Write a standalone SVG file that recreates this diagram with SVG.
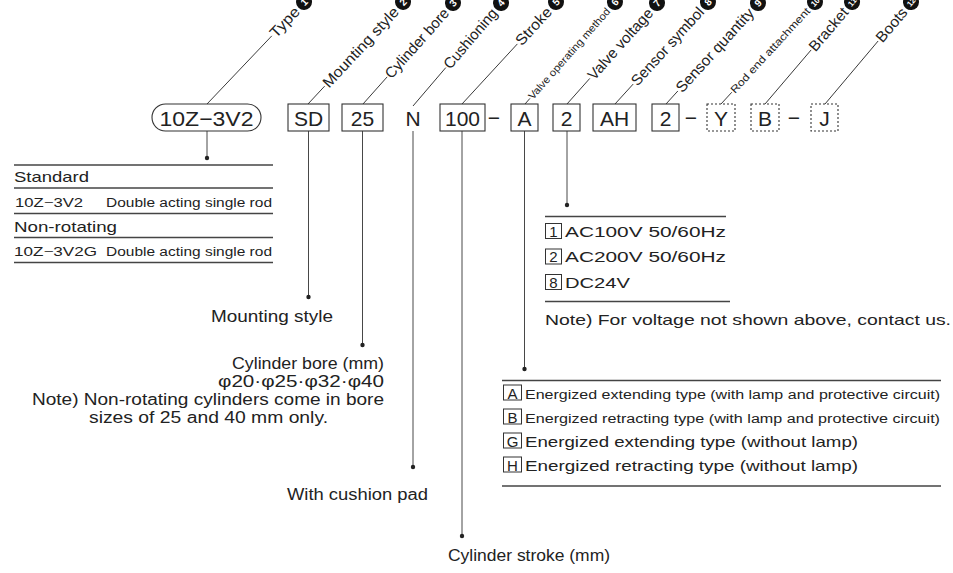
<svg xmlns="http://www.w3.org/2000/svg" width="953" height="573" viewBox="0 0 953 573">
<style>
  text { font-family: "Liberation Sans", Arial, sans-serif; fill: #222; }
  .code { font-size: 21px; text-anchor: middle; }
  .bx { fill: none; stroke: #333; stroke-width: 1.1; }
  .dbx { fill: none; stroke: #333; stroke-width: 1.1; stroke-dasharray: 2 2; }
  .ld { stroke: #333; stroke-width: 0.9; fill: none; }
  .rule { stroke: #444; stroke-width: 1.3; }
  .dot { fill: #222; }
  .lbl { font-size: 15px; }
  .lbls { font-size: 10.5px; }
  .num { font-size: 10px; font-weight: bold; fill: #fff; text-anchor: middle; }
  .num2 { font-size: 8px; font-weight: bold; fill: #fff; text-anchor: middle; }
  .circ { fill: #111; }
  .t15 { font-size: 15px; }
  .t16 { font-size: 16px; }
  .t12 { font-size: 12.5px; }
  .sbox { fill: none; stroke: #333; stroke-width: 1; }
</style>

<!-- connectors -->
<g id="connectors">
  <line class="ld" transform="translate(207,104) rotate(-46.44)" x1="0" y1="0" x2="94" y2="0"/>
  <line class="ld" transform="translate(308,104) rotate(-47.03)" x1="0" y1="0" x2="24.4" y2="0"/>
  <line class="ld" transform="translate(363,104) rotate(-48.30)" x1="0" y1="0" x2="36.3" y2="0"/>
  <line class="ld" transform="translate(413,106) rotate(-49.49)" x1="0" y1="0" x2="50.5" y2="0"/>
  <line class="ld" transform="translate(462,104) rotate(-47.34)" x1="0" y1="0" x2="81.7" y2="0"/>
  <line class="ld" transform="translate(525,104) rotate(-48.58)" x1="0" y1="0" x2="7.5" y2="0"/>
  <line class="ld" transform="translate(567,104) rotate(-48.30)" x1="0" y1="0" x2="34.3" y2="0"/>
  <line class="ld" transform="translate(615,104) rotate(-47.64)" x1="0" y1="0" x2="27" y2="0"/>
  <line class="ld" transform="translate(666,104) rotate(-47.67)" x1="0" y1="0" x2="17.6" y2="0"/>
  <line class="ld" transform="translate(721,104) rotate(-47.34)" x1="0" y1="0" x2="16" y2="0"/>
  <line class="ld" transform="translate(765,104) rotate(-49.53)" x1="0" y1="0" x2="71.1" y2="0"/>
  <line class="ld" transform="translate(825,104) rotate(-49.86)" x1="0" y1="0" x2="82.4" y2="0"/>

  <line class="ld" x1="207" y1="131" x2="207" y2="158"/>
  <circle class="dot" cx="207" cy="158" r="2.2"/>
  <line class="ld" x1="308.5" y1="131" x2="308.5" y2="297"/>
  <circle class="dot" cx="308.5" cy="297" r="2.2"/>
  <line class="ld" x1="362.5" y1="131" x2="362.5" y2="345"/>
  <circle class="dot" cx="362.5" cy="345" r="2.2"/>
  <line class="ld" x1="413" y1="131" x2="413" y2="467"/>
  <circle class="dot" cx="413" cy="467" r="2.2"/>
  <line class="ld" x1="462" y1="131" x2="462" y2="536"/>
  <circle class="dot" cx="462" cy="536" r="2.2"/>
  <line class="ld" x1="524.5" y1="131" x2="524.5" y2="369"/>
  <circle class="dot" cx="524.5" cy="369" r="2.2"/>
  <line class="ld" x1="567" y1="131" x2="567" y2="205"/>
  <circle class="dot" cx="567" cy="205" r="2.2"/>
</g>

<!-- rotated labels -->
<g id="label-1" transform="translate(207,104) rotate(-46.44)">
  <text class="lbl" x="94.8" y="5" textLength="36" lengthAdjust="spacingAndGlyphs">Type</text>
  <circle class="circ" cx="140.8" cy="0" r="8"/><text class="num" x="140.8" y="3.5">1</text>
</g>
<g id="label-2" transform="translate(308,104) rotate(-47.03)">
  <text class="lbl" x="25.4" y="5" textLength="104" lengthAdjust="spacingAndGlyphs">Mounting style</text>
  <circle class="circ" cx="139.4" cy="0" r="8"/><text class="num" x="139.4" y="3.5">2</text>
</g>
<g id="label-3" transform="translate(363,104) rotate(-48.30)">
  <text class="lbl" x="37.3" y="5" textLength="88" lengthAdjust="spacingAndGlyphs">Cylinder bore</text>
  <circle class="circ" cx="135.3" cy="0" r="8"/><text class="num" x="135.3" y="3.5">3</text>
</g>
<g id="label-4" transform="translate(413,106) rotate(-49.49)">
  <text class="lbl" x="51.5" y="5" textLength="74" lengthAdjust="spacingAndGlyphs">Cushioning</text>
  <circle class="circ" cx="135.5" cy="0" r="8"/><text class="num" x="135.5" y="3.5">4</text>
</g>
<g id="label-5" transform="translate(462,104) rotate(-47.34)">
  <text class="lbl" x="82.7" y="5" textLength="46" lengthAdjust="spacingAndGlyphs">Stroke</text>
  <circle class="circ" cx="138.7" cy="0" r="8"/><text class="num" x="138.7" y="3.5">5</text>
</g>
<g id="label-6" transform="translate(525,104) rotate(-48.58)">
  <text class="lbls" x="8" y="3.5" textLength="118" lengthAdjust="spacingAndGlyphs">Valve operating method</text>
  <circle class="circ" cx="136" cy="0" r="8"/><text class="num" x="136" y="3.5">6</text>
</g>
<g id="label-7" transform="translate(567,104) rotate(-48.30)">
  <text class="lbl" x="35.3" y="5" textLength="90" lengthAdjust="spacingAndGlyphs">Valve voltage</text>
  <circle class="circ" cx="135.3" cy="0" r="8"/><text class="num" x="135.3" y="3.5">7</text>
</g>
<g id="label-8" transform="translate(615,104) rotate(-47.64)">
  <text class="lbl" x="28" y="5" textLength="100" lengthAdjust="spacingAndGlyphs">Sensor symbol</text>
  <circle class="circ" cx="138" cy="0" r="8"/><text class="num" x="138" y="3.5">8</text>
</g>
<g id="label-9" transform="translate(666,104) rotate(-47.67)">
  <text class="lbl" x="18.6" y="5" textLength="108" lengthAdjust="spacingAndGlyphs">Sensor quantity</text>
  <circle class="circ" cx="136.6" cy="0" r="8"/><text class="num" x="136.6" y="3.5">9</text>
</g>
<g id="label-10" transform="translate(721,104) rotate(-47.34)">
  <text class="lbls" x="16.7" y="3.5" textLength="112" lengthAdjust="spacingAndGlyphs">Rod end attachment</text>
  <circle class="circ" cx="138.7" cy="0" r="8"/><text class="num2" x="138.7" y="3">10</text>
</g>
<g id="label-11" transform="translate(765,104) rotate(-49.53)">
  <text class="lbl" x="72.1" y="5" textLength="52" lengthAdjust="spacingAndGlyphs">Bracket</text>
  <circle class="circ" cx="134.1" cy="0" r="8"/><text class="num2" x="134.1" y="3">11</text>
</g>
<g id="label-12" transform="translate(825,104) rotate(-49.86)">
  <text class="lbl" x="83.4" y="5" textLength="40" lengthAdjust="spacingAndGlyphs">Boots</text>
  <circle class="circ" cx="133.4" cy="0" r="8"/><text class="num2" x="133.4" y="3">12</text>
</g>

<!-- code row -->
<g id="code-type"><rect class="bx" x="152" y="104" width="109" height="27" rx="13.5"/><text class="code" x="206.5" y="125.5" textLength="94" lengthAdjust="spacingAndGlyphs">10Z−3V2</text></g>
<g id="code-mounting"><rect class="bx" x="288" y="104" width="41" height="27"/><text class="code" x="308.5" y="125.5">SD</text></g>
<g id="code-bore"><rect class="bx" x="342" y="104" width="41" height="27"/><text class="code" x="362.5" y="125.5">25</text></g>
<g id="code-cushion"><text class="code" x="413" y="125.5">N</text></g>
<g id="code-stroke"><rect class="bx" x="440" y="104" width="45" height="27"/><text class="code" x="462.5" y="125.5">100</text></g>
<text class="code" x="494" y="124.5">−</text>
<g id="code-valve"><rect class="bx" x="511" y="104" width="27" height="27"/><text class="code" x="524.5" y="125.5">A</text></g>
<g id="code-voltage"><rect class="bx" x="553" y="104" width="27" height="27"/><text class="code" x="566.5" y="125.5">2</text></g>
<g id="code-sensor"><rect class="bx" x="593" y="104" width="43" height="27"/><text class="code" x="614.5" y="125.5">AH</text></g>
<g id="code-qty"><rect class="bx" x="652" y="104" width="27" height="27"/><text class="code" x="665.5" y="125.5">2</text></g>
<text class="code" x="691" y="124.5">−</text>
<g id="code-rod"><rect class="dbx" x="707" y="104" width="28" height="27"/><text class="code" x="721" y="125.5">Y</text></g>
<g id="code-bracket"><rect class="dbx" x="751" y="104" width="28" height="27"/><text class="code" x="765" y="125.5">B</text></g>
<text class="code" x="794" y="124.5">−</text>
<g id="code-boots"><rect class="dbx" x="811" y="104" width="27" height="27"/><text class="code" x="824.5" y="125.5">J</text></g>

<!-- type table -->
<g id="table-type">
  <line class="rule" x1="14" y1="165" x2="273" y2="165"/>
  <line class="rule" x1="14" y1="188" x2="273" y2="188"/>
  <line class="rule" x1="14" y1="213.5" x2="273" y2="213.5"/>
  <line class="rule" x1="14" y1="237.5" x2="273" y2="237.5"/>
  <line class="rule" x1="14" y1="262.5" x2="273" y2="262.5"/>
  <text class="t15" x="14" y="182" textLength="75" lengthAdjust="spacingAndGlyphs">Standard</text>
  <text class="t12" x="15" y="206.5" textLength="68" lengthAdjust="spacingAndGlyphs">10Z−3V2</text>
  <text class="t12" x="106" y="206.5" textLength="166" lengthAdjust="spacingAndGlyphs">Double acting single rod</text>
  <text class="t15" x="14" y="231.5" textLength="103" lengthAdjust="spacingAndGlyphs">Non-rotating</text>
  <text class="t12" x="14" y="255.5" textLength="83" lengthAdjust="spacingAndGlyphs">10Z−3V2G</text>
  <text class="t12" x="106" y="255.5" textLength="166" lengthAdjust="spacingAndGlyphs">Double acting single rod</text>
</g>

<!-- descriptions -->
<g id="desc-mounting"><text class="t16" x="333" y="321.5" text-anchor="end" textLength="122" lengthAdjust="spacingAndGlyphs">Mounting style</text></g>
<g id="desc-bore">
  <text class="t16" x="384" y="369" text-anchor="end" textLength="152" lengthAdjust="spacingAndGlyphs">Cylinder bore (mm)</text>
  <text class="t16" x="384" y="387" text-anchor="end" textLength="166" lengthAdjust="spacingAndGlyphs">φ20·φ25·φ32·φ40</text>
  <text class="t16" x="384" y="405" text-anchor="end" textLength="352" lengthAdjust="spacingAndGlyphs">Note) Non-rotating cylinders come in bore</text>
  <text class="t16" x="208.5" y="423" text-anchor="middle" textLength="239" lengthAdjust="spacingAndGlyphs">sizes of 25 and 40 mm only.</text>
</g>
<g id="desc-cushion"><text class="t16" x="428" y="499.5" text-anchor="end" textLength="141" lengthAdjust="spacingAndGlyphs">With cushion pad</text></g>
<g id="desc-stroke"><text class="t16" x="448" y="561" textLength="162" lengthAdjust="spacingAndGlyphs">Cylinder stroke (mm)</text></g>

<!-- voltage table -->
<g id="table-voltage">
  <line class="rule" x1="545" y1="216.5" x2="726" y2="216.5"/>
  <rect class="sbox" x="545.5" y="223.5" width="16" height="15"/><text class="t15" x="553.5" y="236.5" text-anchor="middle">1</text>
  <text class="t15" x="565" y="236.5" textLength="161" lengthAdjust="spacingAndGlyphs">AC100V 50/60Hz</text>
  <rect class="sbox" x="545.5" y="249" width="16" height="15"/><text class="t15" x="553.5" y="262" text-anchor="middle">2</text>
  <text class="t15" x="565" y="262" textLength="161" lengthAdjust="spacingAndGlyphs">AC200V 50/60Hz</text>
  <rect class="sbox" x="545.5" y="274.5" width="16" height="15"/><text class="t15" x="553.5" y="287.5" text-anchor="middle">8</text>
  <text class="t15" x="565" y="287.5" textLength="65" lengthAdjust="spacingAndGlyphs">DC24V</text>
  <line class="rule" x1="545" y1="301.5" x2="730" y2="301.5"/>
  <text class="t15" x="545" y="325" textLength="406" lengthAdjust="spacingAndGlyphs">Note) For voltage not shown above, contact us.</text>
</g>

<!-- valve operating table -->
<g id="table-valve">
  <line class="rule" x1="502" y1="380.5" x2="941" y2="380.5"/>
  <rect class="sbox" x="503.5" y="385" width="18" height="15"/><text class="t15" x="512.5" y="398.5" text-anchor="middle">A</text>
  <text class="t12" x="525" y="398.5" textLength="415" lengthAdjust="spacingAndGlyphs">Energized extending type (with lamp and protective circuit)</text>
  <rect class="sbox" x="503.5" y="409" width="18" height="15"/><text class="t15" x="512.5" y="422.5" text-anchor="middle">B</text>
  <text class="t12" x="525" y="422.5" textLength="415" lengthAdjust="spacingAndGlyphs">Energized retracting type (with lamp and protective circuit)</text>
  <rect class="sbox" x="503.5" y="433" width="18" height="15"/><text class="t15" x="512.5" y="446.5" text-anchor="middle">G</text>
  <text class="t15" x="525" y="446.5" textLength="333" lengthAdjust="spacingAndGlyphs">Energized extending type (without lamp)</text>
  <rect class="sbox" x="503.5" y="457" width="18" height="15"/><text class="t15" x="512.5" y="470.5" text-anchor="middle">H</text>
  <text class="t15" x="525" y="470.5" textLength="333" lengthAdjust="spacingAndGlyphs">Energized retracting type (without lamp)</text>
  <line class="rule" x1="502" y1="486" x2="941" y2="486"/>
</g>
</svg>
